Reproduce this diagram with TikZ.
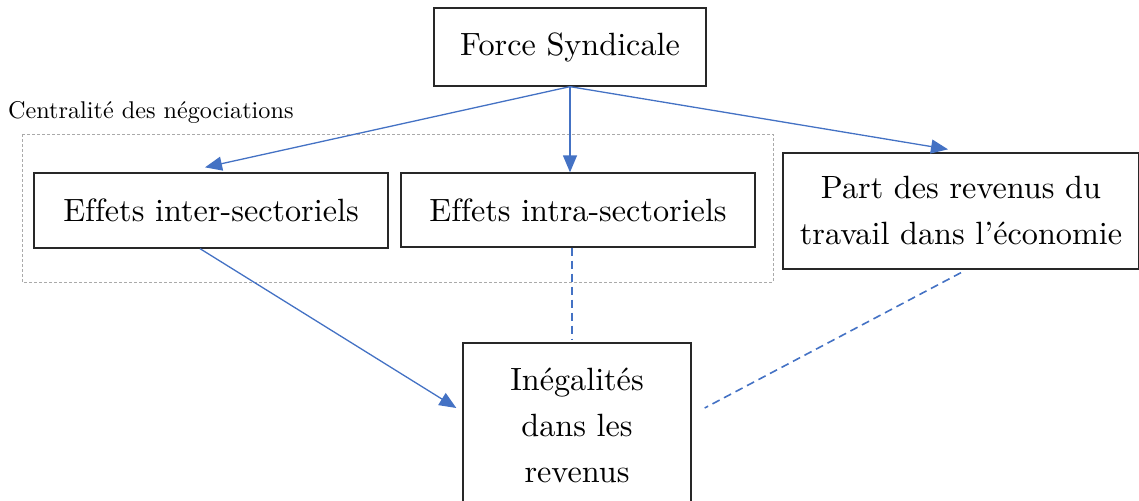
\documentclass[tikz,border=0pt]{standalone}
\usepackage{fontspec}
\setmainfont{lmroman10-regular.otf}[Ligatures=CommonOff]
\usetikzlibrary{arrows.meta}
\definecolor{linkblue}{RGB}{68,114,196}
\definecolor{boxline}{RGB}{40,40,40}
\definecolor{groupgray}{RGB}{170,170,170}
\tikzset{
  boxnode/.style={draw=boxline, line width=1.3pt, rectangle, inner sep=0pt, align=center,
    font=\fontsize{32.2}{46}\selectfont},
  link/.style={draw=linkblue, line width=1.3pt, -{Triangle[length=17pt,width=14pt]}},
  dashlink/.style={draw=linkblue, line width=1.6pt, dash pattern=on 8pt off 5pt},
  groupbox/.style={draw=groupgray, line width=1pt, dash pattern=on 3pt off 2pt},
}
\begin{document}
\begin{tikzpicture}[x=1pt,y=-1pt]
\useasboundingbox (0,0) rectangle (1139,500);
\draw[groupbox] (22,134) rectangle (773,282);
\node[anchor=base west, inner sep=0pt, font=\fontsize{24.2}{29}\selectfont] (centr) at (8,118) {Centralité des négociations};
\node[boxnode, minimum width=272pt, minimum height=78pt] (force) at (570,47) {Force Syndicale};
\node[boxnode, minimum width=354pt, minimum height=75pt] (inter) at (211,210.5) {Effets inter-sectoriels};
\node[boxnode, minimum width=354pt, minimum height=74pt] (intra) at (578,210) {Effets intra-sectoriels};
\node[boxnode, minimum width=356pt, minimum height=116pt] (part) at (961,211) {Part des revenus du\\travail dans l’économie};
\node[boxnode, minimum width=228pt, minimum height=164pt] (ineg) at (577,425) {Inégalités\\dans les\\revenus};
\draw[link] (force.south) -- ([xshift=-6pt,yshift=5pt]inter.north);
\draw[link] (force.south) -- (force.south |- intra.north);
\draw[link] (force.south) -- ([xshift=-13pt,yshift=3pt]part.north);
\draw[link] ([xshift=-11pt]inter.south) -- ([xshift=-6pt,yshift=17pt]ineg.west);
\draw[dashlink] ([xshift=-6pt]intra.south) -- ([xshift=-5pt,yshift=3pt]ineg.north);
\draw[dashlink] ([yshift=-3pt]part.south) -- ([xshift=13pt,yshift=17pt]ineg.east);
\end{tikzpicture}
\end{document}
